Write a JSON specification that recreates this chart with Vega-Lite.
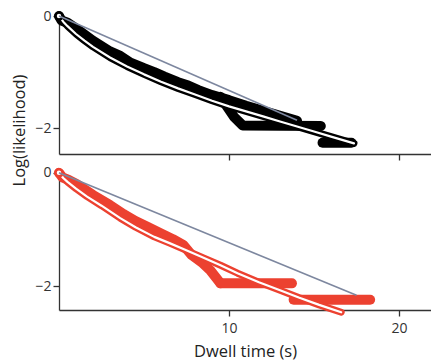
{
  "$schema": "https://vega.github.io/schema/vega-lite/v6.json",
  "background": "white",
  "padding": {"left": 11, "top": 7, "right": 0, "bottom": 0},
  "spacing": 16,
  "bounds": "flush",
  "config": {
    "view": {"stroke": null},
    "font": "Open Sans",
    "axis": {
      "grid": false,
      "domainColor": "#333333",
      "domainWidth": 1.3,
      "tickColor": "#333333",
      "tickWidth": 1.3,
      "tickSize": 6,
      "labelFont": "Open Sans",
      "labelFontSize": 14,
      "labelColor": "#333333",
      "titleFont": "Open Sans",
      "titleFontSize": 16.5,
      "titleFontWeight": "normal",
      "titleColor": "#222222"
    }
  },
  "datasets": {
    "top_obs": [
      {"seg": 1, "t": 0, "y": 0}, {"seg": 1, "t": 0.15, "y": -0.08}, {"seg": 1, "t": 0.5, "y": -0.12},
      {"seg": 1, "t": 1, "y": -0.22}, {"seg": 1, "t": 2, "y": -0.44}, {"seg": 1, "t": 3, "y": -0.63},
      {"seg": 1, "t": 3.6, "y": -0.71}, {"seg": 1, "t": 4.2, "y": -0.83}, {"seg": 1, "t": 5, "y": -0.93},
      {"seg": 1, "t": 5.6, "y": -1.0}, {"seg": 1, "t": 6.2, "y": -1.08}, {"seg": 1, "t": 7, "y": -1.18},
      {"seg": 1, "t": 7.6, "y": -1.24}, {"seg": 1, "t": 8.2, "y": -1.32}, {"seg": 1, "t": 9, "y": -1.41},
      {"seg": 1, "t": 10, "y": -1.5}, {"seg": 1, "t": 11, "y": -1.6}, {"seg": 1, "t": 12, "y": -1.69},
      {"seg": 1, "t": 13, "y": -1.78}, {"seg": 1, "t": 14, "y": -1.87},
      {"seg": 2, "t": 9.5, "y": -1.44}, {"seg": 2, "t": 9.9, "y": -1.62}, {"seg": 2, "t": 10.3, "y": -1.8},
      {"seg": 2, "t": 10.8, "y": -1.95}, {"seg": 2, "t": 15.4, "y": -1.96},
      {"seg": 3, "t": 15.5, "y": -2.26}, {"seg": 3, "t": 17.2, "y": -2.26}
    ],
    "top_fit": [
      {"t": 0, "y": 0}, {"t": 0.25, "y": -0.1}, {"t": 0.5, "y": -0.18}, {"t": 1, "y": -0.32},
      {"t": 1.5, "y": -0.44}, {"t": 2, "y": -0.55}, {"t": 3, "y": -0.74}, {"t": 4, "y": -0.9},
      {"t": 5, "y": -1.04}, {"t": 6, "y": -1.17}, {"t": 7, "y": -1.29}, {"t": 8, "y": -1.4},
      {"t": 9, "y": -1.51}, {"t": 10, "y": -1.61}, {"t": 11, "y": -1.7}, {"t": 12, "y": -1.79},
      {"t": 13, "y": -1.88}, {"t": 14, "y": -1.97}, {"t": 15, "y": -2.06}, {"t": 16, "y": -2.15},
      {"t": 17.35, "y": -2.27}
    ],
    "top_single": [{"t": 0, "y": 0}, {"t": 14, "y": -1.86}],
    "bottom_obs": [
      {"seg": 1, "t": 0, "y": 0}, {"seg": 1, "t": 0.2, "y": -0.08}, {"seg": 1, "t": 0.6, "y": -0.13},
      {"seg": 1, "t": 1, "y": -0.19}, {"seg": 1, "t": 2, "y": -0.39}, {"seg": 1, "t": 3, "y": -0.57},
      {"seg": 1, "t": 3.8, "y": -0.73}, {"seg": 1, "t": 4.5, "y": -0.85}, {"seg": 1, "t": 5.2, "y": -0.95},
      {"seg": 1, "t": 6, "y": -1.07}, {"seg": 1, "t": 6.7, "y": -1.17}, {"seg": 1, "t": 7.3, "y": -1.27},
      {"seg": 1, "t": 7.8, "y": -1.45}, {"seg": 1, "t": 8.4, "y": -1.58}, {"seg": 1, "t": 8.9, "y": -1.72},
      {"seg": 1, "t": 9.5, "y": -1.95},
      {"seg": 2, "t": 9.5, "y": -1.95}, {"seg": 2, "t": 13.7, "y": -1.95},
      {"seg": 3, "t": 13.8, "y": -2.24}, {"seg": 3, "t": 18.3, "y": -2.24}
    ],
    "bottom_fit": [
      {"t": 0, "y": 0}, {"t": 0.25, "y": -0.09}, {"t": 0.5, "y": -0.16}, {"t": 1, "y": -0.28},
      {"t": 1.65, "y": -0.42}, {"t": 2.5, "y": -0.58}, {"t": 3.6, "y": -0.8}, {"t": 4.5, "y": -0.96},
      {"t": 5.6, "y": -1.13}, {"t": 6.5, "y": -1.24}, {"t": 7.35, "y": -1.35}, {"t": 8.5, "y": -1.5},
      {"t": 9.5, "y": -1.63}, {"t": 10.5, "y": -1.77}, {"t": 11.76, "y": -1.93}, {"t": 13, "y": -2.07},
      {"t": 14.1, "y": -2.2}, {"t": 15.3, "y": -2.33}, {"t": 16.6, "y": -2.46}
    ],
    "bottom_single": [{"t": 0, "y": 0}, {"t": 17.5, "y": -2.16}]
  },
  "vconcat": [
    {
      "width": 372,
      "height": 143,
      "encoding": {
        "x": {"field": "t", "type": "quantitative", "scale": {"domain": [0, 21.88], "nice": false, "zero": false},
              "axis": {"values": [10, 20], "labels": false, "title": null}},
        "y": {"field": "y", "type": "quantitative", "scale": {"domain": [-2.46, 0.09], "nice": false, "zero": false},
              "axis": {"values": [0, -2], "labelPadding": 2, "title": "Log(likelihood)", "titleBaseline": "alphabetic", "titleX": -35, "titleY": 119}}
      },
      "layer": [
        {"data": {"name": "top_obs"},
         "mark": {"type": "line", "color": "#000000", "strokeWidth": 10, "strokeCap": "round", "strokeJoin": "round"},
         "encoding": {"detail": {"field": "seg", "type": "nominal"}}},
        {"data": {"name": "top_fit"},
         "mark": {"type": "line", "color": "#000000", "strokeWidth": 7, "strokeCap": "round", "strokeJoin": "round"}},
        {"data": {"name": "top_fit"},
         "mark": {"type": "line", "color": "#ffffff", "strokeWidth": 2.2, "strokeCap": "round", "strokeJoin": "round"}},
        {"data": {"name": "top_obs"},
         "transform": [{"filter": "datum.t == 0"}],
         "mark": {"type": "point", "shape": "circle", "filled": false, "fill": "#ffffff", "stroke": "#000000", "strokeWidth": 2.6, "size": 50, "opacity": 1}},
        {"data": {"name": "top_single"},
         "mark": {"type": "line", "color": "#7d879f", "strokeWidth": 1.6}}
      ]
    },
    {
      "width": 372,
      "height": 140,
      "encoding": {
        "x": {"field": "t", "type": "quantitative", "scale": {"domain": [0, 21.88], "nice": false, "zero": false},
              "axis": {"values": [10, 20], "labelPadding": 5, "title": "Dwell time (s)", "titlePadding": 8}},
        "y": {"field": "y", "type": "quantitative", "scale": {"domain": [-2.42, 0.05], "nice": false, "zero": false},
              "axis": {"values": [0, -2], "labelPadding": 2, "title": null}}
      },
      "layer": [
        {"data": {"name": "bottom_obs"},
         "mark": {"type": "line", "color": "#ec4130", "strokeWidth": 10, "strokeCap": "round", "strokeJoin": "round"},
         "encoding": {"detail": {"field": "seg", "type": "nominal"}}},
        {"data": {"name": "bottom_fit"},
         "mark": {"type": "line", "color": "#ec4130", "strokeWidth": 7, "strokeCap": "round", "strokeJoin": "round"}},
        {"data": {"name": "bottom_fit"},
         "mark": {"type": "line", "color": "#ffffff", "strokeWidth": 2.2, "strokeCap": "round", "strokeJoin": "round"}},
        {"data": {"name": "bottom_obs"},
         "transform": [{"filter": "datum.t == 0"}],
         "mark": {"type": "point", "shape": "circle", "filled": false, "fill": "#ffffff", "stroke": "#ec4130", "strokeWidth": 2.6, "size": 50, "opacity": 1}},
        {"data": {"name": "bottom_single"},
         "mark": {"type": "line", "color": "#7d879f", "strokeWidth": 1.6}}
      ]
    }
  ]
}
